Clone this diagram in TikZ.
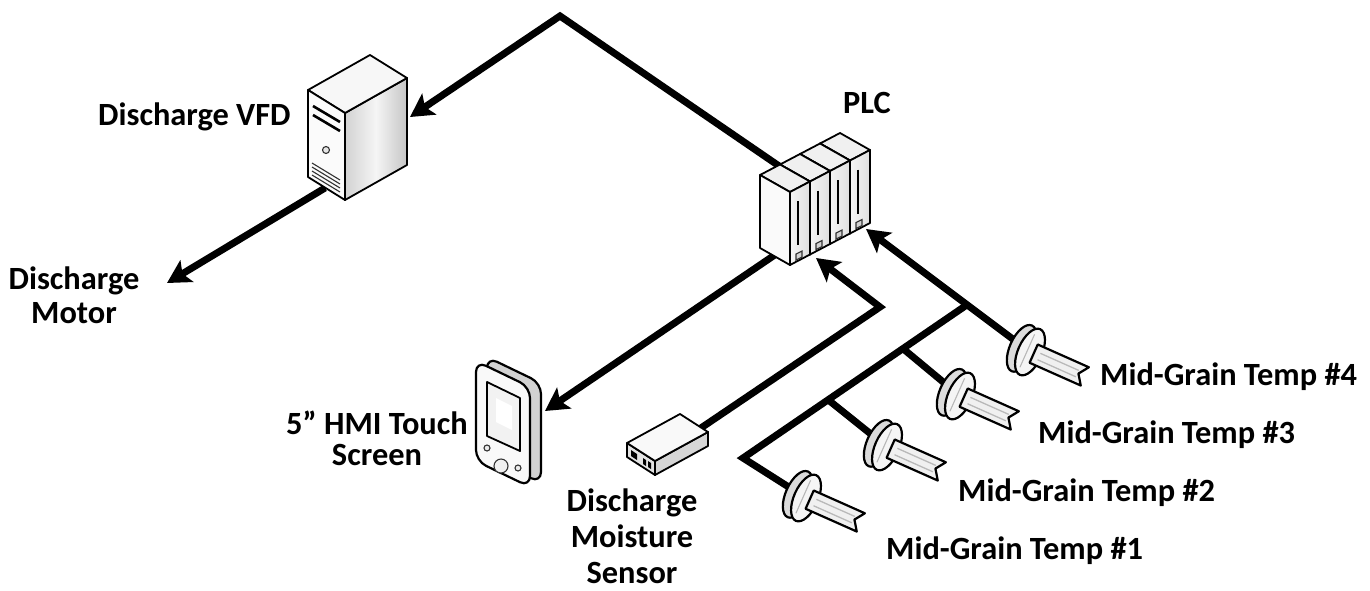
\documentclass[tikz,border=0pt]{standalone}
\usepackage{fontspec}
\setmainfont{Carlito}
\usetikzlibrary{arrows.meta,calc}
\tikzset{
  wire/.style={line width=7pt, draw=black},
  arr/.style={wire, -{Stealth[length=23pt,width=25pt,inset=5pt]}},
  lbl/.style={font=\fontsize{32.4}{36}\selectfont\bfseries, inner sep=0pt},
  edge/.style={line width=1.8pt, draw=black, line join=round},
  fine/.style={line width=1.1pt, draw=black!80},
  tsensor/.pic={
    \draw[edge, line width=2.2pt, fill=gray!28] (-9,0) ellipse [x radius=12pt, y radius=25pt];
    \draw[edge, line width=2.2pt, fill=gray!8] (0,0) ellipse [x radius=12pt, y radius=25pt];
    \draw[fine, gray!55] (-3,-18) -- (-3,18);
    \draw[edge, line width=2.2pt, fill=gray!12] (4,-10) -- (60,-10) -- (53,0) -- (60,10) -- (4,10) -- cycle;
    \draw[line width=1.3pt, gray!55] (10,-3) -- (52,-3);
    \draw[line width=1.3pt, gray!55] (10,4) -- (52,4);
  }
}
\begin{document}
\begin{tikzpicture}[x=1pt,y=-1pt]
\useasboundingbox (0,0) rectangle (1370,590);
\fill[white] (0,0) rectangle (1370,590);

% ---------- connector coordinates ----------
\coordinate (plcA) at (782,168);
\coordinate (peak) at (560,16);
\coordinate (vfdIn) at (410,117);
\coordinate (vfdOut) at (325,188);
\coordinate (motor) at (167,283);
\coordinate (plcB) at (785,248);
\coordinate (hmiIn) at (545,411);
\coordinate (msOut) at (695,432);
\coordinate (bend) at (880,307);
\coordinate (plcC) at (816,258);
\coordinate (plcD) at (866,229);
\coordinate (h4) at (1030,352);
\coordinate (j4) at ($(plcD)!0.616!(h4)$);
\coordinate (corner) at (743,458);
\coordinate (j3) at ($(j4)!0.286!(corner)$);
\coordinate (j2) at ($(j4)!0.62!(corner)$);
\coordinate (h3) at (960,396);
\coordinate (h2) at (887,447);
\coordinate (h1) at (806,498);

% ---------- connectors ----------
\draw[arr] (plcA) -- (peak) -- (vfdIn);
\draw[arr] (vfdOut) -- (motor);
\draw[arr] (plcB) -- (hmiIn);
\draw[arr] (msOut) -- (bend) -- (plcC);
\draw[arr] (h4) -- (plcD);
\draw[wire] (j4) -- (corner) -- (h1);
\draw[wire] (j3) -- (h3);
\draw[wire] (j2) -- (h2);

% ---------- VFD (tower) ----------
\begin{scope}
  \shade[left color=gray!35, right color=gray!45, middle color=gray!8]
     (345,113) -- (407,78) -- (407,165) -- (345,200) -- cycle;
  \draw[edge] (345,113) -- (407,78) -- (407,165) -- (345,200) -- cycle;
  \draw[edge, fill=gray!6] (308,90) -- (370,55) -- (407,78) -- (345,113) -- cycle;
  \draw[edge, fill=gray!3] (308,90) -- (345,113) -- (345,200) -- (308,177) -- cycle;
  \draw[line width=2.6pt] (313,106) -- (340,122);
  \draw[line width=2.6pt] (313,115) -- (340,131);
  \draw[fine, fill=gray!20] (326,150) circle [radius=3.5pt];
  \foreach \k in {0,1,2,3}
    \draw[fine] (312,{163+4*\k}) -- (340,{180+4*\k});
\end{scope}

% ---------- PLC (four modules) ----------
\foreach \i in {3,2,1,0} {
  \pgfmathsetmacro\bx{760+20*\i}
  \pgfmathsetmacro\by{175-10.5*\i}
  \begin{scope}[shift={(\bx,\by)}]
    \draw[edge, fill=gray!12] (0,0) -- (20,-10.5) -- (50,6.5) -- (30,17) -- cycle;
    \shade[left color=gray!8, right color=gray!25] (30,17) -- (50,6.5) -- (50,79.5) -- (30,90) -- cycle;
    \draw[edge] (30,17) -- (50,6.5) -- (50,79.5) -- (30,90) -- cycle;
    \draw[edge, fill=gray!4] (0,0) -- (30,17) -- (30,90) -- (0,73) -- cycle;
    \draw[line width=2.6pt] (38,26) -- (38,70);
    \draw[fine, fill=gray!35] (36,79) -- (42,76) -- (42,82) -- (36,85) -- cycle;
  \end{scope}
}

% ---------- HMI handheld ----------
\begin{scope}[rounded corners=11pt]
  \draw[edge, line width=2.2pt, fill=gray!35] (487,357) -- (541,383) -- (541,483) -- (487,457) -- cycle;
  \draw[edge, line width=2.2pt, fill=gray!5] (476,361) -- (530,387) -- (530,487) -- (476,461) -- cycle;
\end{scope}
\draw[edge, fill=gray!10] (487,382) -- (520,398) -- (520,451) -- (487,436) -- cycle;
\fill[white] (496,398) -- (512,406) -- (512,430) -- (496,422) -- cycle;
\draw[fine, fill=gray!15] (487,448) circle [radius=3pt];
\draw[fine, fill=gray!12] (501,466) circle [radius=7pt];
\draw[fine, fill=gray!15] (518,468) circle [radius=3pt];

% ---------- moisture sensor ----------
\draw[edge, fill=gray!22] (627,443) -- (655,461) -- (655,475) -- (627,457) -- cycle;
\draw[edge, fill=gray!32] (655,461) -- (708,432) -- (708,446) -- (655,475) -- cycle;
\draw[edge, fill=gray!5] (627,443) -- (680,414) -- (708,432) -- (655,461) -- cycle;
\fill[black] (631,450) -- (637,454) -- (637,460) -- (631,456) -- cycle;
\fill[black] (643,458) -- (646,460) -- (646,466) -- (643,464) -- cycle;
\fill[black] (648,461) -- (651,463) -- (651,469) -- (648,467) -- cycle;

% ---------- temperature sensors ----------
\pic[rotate=-24] at (h4) {tsensor};
\pic[rotate=-24] at (h3) {tsensor};
\pic[rotate=-24] at (h2) {tsensor};
\pic[rotate=-24] at (h1) {tsensor};

% ---------- labels ----------
\node[lbl, anchor=base west] (vfdL) at (98,125) {Discharge VFD};
\node[lbl, anchor=base] (plcL) at (867,113) {PLC};
\node[lbl, align=center, anchor=base] (motorL) at (74,323) {Discharge\\[-2pt]Motor};
\node[lbl, align=center, anchor=base] (hmiL) at (377,465) {5” HMI Touch\\[-5pt]Screen};
\node[lbl, align=center, anchor=base] (msL) at (632,583) {Discharge\\[0pt]Moisture\\[0pt]Sensor};
\node[lbl, anchor=base west] (t4L) at (1100,385) {Mid-Grain Temp \#4};
\node[lbl, anchor=base west] (t3L) at (1038,443) {Mid-Grain Temp \#3};
\node[lbl, anchor=base west] (t2L) at (958,501) {Mid-Grain Temp \#2};
\node[lbl, anchor=base west] (t1L) at (886,559) {Mid-Grain Temp \#1};
\end{tikzpicture}
\end{document}
